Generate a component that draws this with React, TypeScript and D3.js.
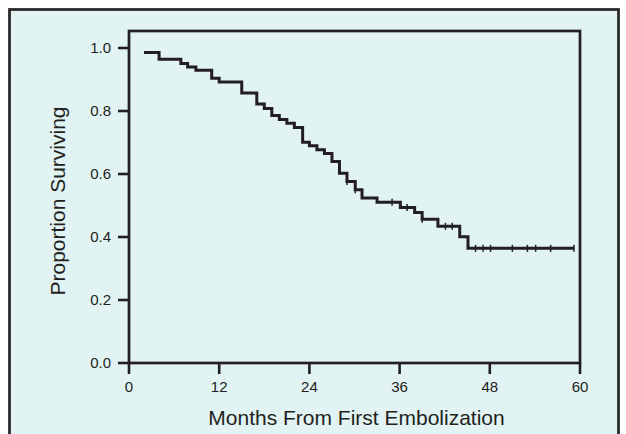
import React from 'react';
import * as d3 from 'd3';

// Kaplan-Meier estimate
const eventMonths = [2, 4, 6.9, 7.8, 8.9, 11, 12, 15, 17, 18, 19, 20, 21, 22, 23.1, 24, 25, 26, 27, 28, 29, 30.1, 31, 33, 36.1, 38, 39, 41.1, 44, 45.1];
const survival = [0.986, 0.964, 0.951, 0.94, 0.929, 0.904, 0.892, 0.857, 0.822, 0.808, 0.786, 0.773, 0.761, 0.748, 0.701, 0.69, 0.677, 0.665, 0.64, 0.602, 0.576, 0.55, 0.524, 0.51, 0.494, 0.478, 0.456, 0.434, 0.401, 0.364];
const lastFollowUp = 59.2;
const censoredMonths = [29, 30.1, 35, 37, 39, 42.1, 43, 46.1, 47.1, 48.1, 51, 53, 54.1, 56.1, 59.2];

const xTicks = [0, 12, 24, 36, 48, 60];
const yTicks = [0, 0.2, 0.4, 0.6, 0.8, 1.0];

const W = 626;
const H = 434;
const ink = '#231f20';
const font = '"Liberation Sans", Arial, Helvetica, sans-serif';

export default function App() {
  const x = d3.scaleLinear().domain([0, 60]).range([129, 580]);
  const y = d3.scaleLinear().domain([0, 1]).range([363, 48]);
  const yTop = y(1.054);

  const pts: [number, number][] = eventMonths.map((m, i) => [m, survival[i]]);
  pts.push([lastFollowUp, survival[survival.length - 1]]);

  const line = d3.line<[number, number]>()
    .x(d => x(d[0]))
    .y(d => y(d[1]))
    .curve(d3.curveStepAfter);

  // survival value at a given month (for placing censor marks)
  const survAt = (m: number) => {
    let s = 1;
    eventMonths.forEach((t, i) => { if (t <= m) s = survival[i]; });
    return s;
  };

  return (
    <svg width={W} height={H} style={{ position: 'absolute', left: 0, top: 0 }}>
      <rect x={0} y={0} width={W} height={H} fill="#fff" />
      <rect x={9.5} y={9.5} width={609} height={H} fill="#e1f3f3" stroke="#2b2b2b" strokeWidth={2.8} />

      {/* plot frame */}
      <rect x={x(0)} y={yTop} width={x(60) - x(0)} height={y(0) - yTop}
        fill="none" stroke={ink} strokeWidth={2.7} />

      {/* y axis */}
      {yTicks.map(t => (
        <g key={'y' + t}>
          <line x1={x(0) - 11} x2={x(0)} y1={y(t)} y2={y(t)} stroke={ink} strokeWidth={2.6} />
          <text x={x(0) - 18} y={y(t)} dy="0.35em" textAnchor="end" fontFamily={font} fontSize={15} fill={ink}>
            {d3.format('.1f')(t)}
          </text>
        </g>
      ))}

      {/* x axis */}
      {xTicks.map(t => (
        <g key={'x' + t}>
          <line x1={x(t)} x2={x(t)} y1={y(0)} y2={y(0) + 11} stroke={ink} strokeWidth={2.6} />
          <text x={x(t)} y={392} textAnchor="middle" fontFamily={font} fontSize={15} fill={ink}>{t}</text>
        </g>
      ))}

      <text x={(x(0) + x(60)) / 2 + 2} y={425} textAnchor="middle" fontFamily={font} fontSize={21} fill={ink}>
        Months From First Embolization
      </text>
      <text transform={`translate(65,${(yTop + y(0)) / 2 + 4}) rotate(-90)`} textAnchor="middle"
        fontFamily={font} fontSize={21} fill={ink}>
        Proportion Surviving
      </text>

      {/* survival curve */}
      <path d={line(pts) || ''} fill="none" stroke={ink} strokeWidth={3} />

      {/* censored observations */}
      {censoredMonths.map(m => (
        <line key={'c' + m} x1={x(m)} x2={x(m)} y1={y(survAt(m)) - 3.5} y2={y(survAt(m)) + 3.5}
          stroke={ink} strokeWidth={1.5} />
      ))}
    </svg>
  );
}
